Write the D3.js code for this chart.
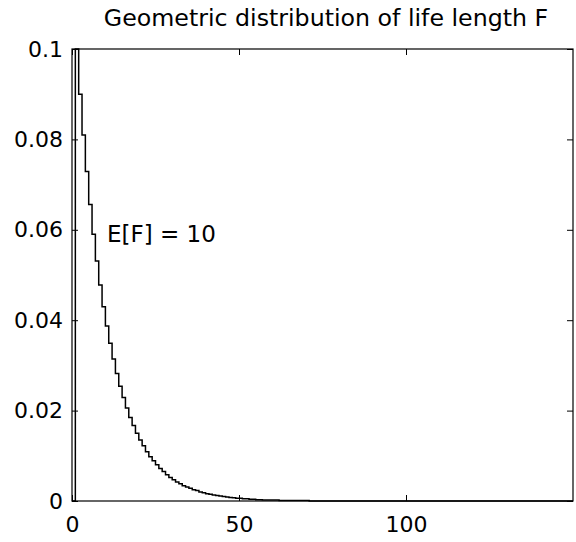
<!DOCTYPE html>
<html>
<head>
<meta charset="utf-8">
<script src="https://cdn.jsdelivr.net/npm/d3@7"></script>
<style>
  body { margin: 0; background: #fff; }
  text { font-family: "DejaVu Sans", sans-serif; fill: #000; }
</style>
</head>
<body>
<script>
// probabilités P(F = k), k = 1, 2, 3 ...
const probabilites = [
  0.1, 0.09, 0.081, 0.0729, 0.0656, 0.0590, 0.0531, 0.0478, 0.0430, 0.0387,
  0.0349, 0.0314, 0.0282, 0.0254, 0.0229, 0.0206, 0.0185, 0.0167, 0.0150, 0.0135,
  0.0122, 0.0109, 0.0098, 0.0089, 0.0080, 0.0072, 0.0065, 0.0058, 0.0052, 0.0047,
  0.0042, 0.0038, 0.0034, 0.0031, 0.0028, 0.0025, 0.0023, 0.0020, 0.0018, 0.0016,
  0.0015, 0.0013, 0.0012, 0.0011, 0.0010, 0.0009, 0.0008, 0.0007, 0.0006, 0.0006,
  0.0005, 0.0005, 0.0004, 0.0004, 0.0003, 0.0003, 0.0002, 0.0002, 0.0002, 0.0002,
  0.0002, 0.0001, 0.0001, 0.0001, 0.0001, 0.0001, 0.0001, 0.0001, 0.0001, 0.0001
];
// fin de la série (durée maximale, probabilité nulle)
const duree_max = 150;
const ticks_x = [0, 50, 100];
const ticks_y = [0, 0.02, 0.04, 0.06, 0.08, 0.1];
const labels_y = ['0', '0.02', '0.04', '0.06', '0.08', '0.1'];
const titre = 'Geometric distribution of life length F';
const annotation = 'E[F] = 10';

// points du graphe en escalier : k = 0 vaut 0
const points = [[0, 0]]
  .concat(probabilites.map((p, i) => [i + 1, p]))
  .concat([[probabilites.length + 1, 0], [duree_max, 0]]);

const W = 576, H = 542;
const marge = { gauche: 72, droite: 573, haut: 49, bas: 501 };

const canevas = d3.select('body')
  .append('svg')
  .attr('width', W)
  .attr('height', H);

const x = d3.scaleLinear().domain([0, duree_max]).range([marge.gauche, marge.droite]);
const y = d3.scaleLinear().domain([0, 0.1]).range([marge.bas, marge.haut]);

// la courbe en escalier
const ligne = d3.line()
  .x(d => x(d[0]))
  .y(d => y(d[1]))
  .curve(d3.curveStepAfter);

canevas.append('path')
  .attr('d', ligne(points))
  .attr('fill', 'none')
  .attr('stroke', '#000')
  .attr('stroke-width', 1.5);

// le cadre
canevas.append('rect')
  .attr('x', marge.gauche)
  .attr('y', marge.haut)
  .attr('width', marge.droite - marge.gauche)
  .attr('height', marge.bas - marge.haut)
  .attr('fill', 'none')
  .attr('stroke', '#000')
  .attr('stroke-width', 1.2);

// axes (graduations vers l'intérieur)
const axe_bas = d3.axisBottom(x).tickValues(ticks_x).tickSize(-6).tickPadding(15);
const axe_gauche = d3.axisLeft(y).tickValues(ticks_y).tickSize(-6).tickPadding(9)
  .tickFormat((d, i) => labels_y[i]);

const g_bas = canevas.append('g')
  .attr('transform', `translate(0,${marge.bas})`)
  .call(axe_bas);
const g_gauche = canevas.append('g')
  .attr('transform', `translate(${marge.gauche},0)`)
  .call(axe_gauche);
canevas.append('g')
  .attr('transform', `translate(0,${marge.haut})`)
  .call(d3.axisTop(x).tickValues(ticks_x).tickSize(-6).tickFormat(''));
canevas.append('g')
  .attr('transform', `translate(${marge.droite},0)`)
  .call(d3.axisRight(y).tickValues(ticks_y).tickSize(-6).tickFormat(''));

canevas.selectAll('.domain').remove();
canevas.selectAll('.tick line').attr('stroke', '#000');
g_bas.selectAll('text').style('font-size', '22px').attr('font-family', null);
g_gauche.selectAll('text').style('font-size', '22px').attr('font-family', null);

// titre
canevas.append('text')
  .attr('x', 326)
  .attr('y', 26)
  .attr('text-anchor', 'middle')
  .style('font-size', '23.7px')
  .text(titre);

// espérance
canevas.append('text')
  .attr('x', 107)
  .attr('y', 242)
  .style('font-size', '23px')
  .text(annotation);
</script>
</body>
</html>
